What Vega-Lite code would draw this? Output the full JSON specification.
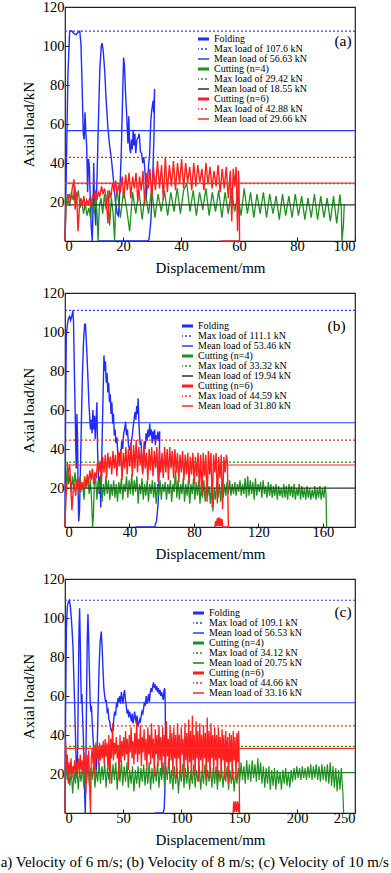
{
"$schema":"https://vega.github.io/schema/vega-lite/v6.json",
"padding":{"left":0,"top":-2,"right":0,"bottom":0},
"background":"white",
"config":{
"view":{"stroke":"#222","strokeWidth":1.2},
"font":"Liberation Serif",
"axis":{"labelFont":"Liberation Serif","titleFont":"Liberation Serif","labelFontSize":14.5,"titleFontSize":15,"titleFontWeight":"normal","labelColor":"#000","titleColor":"#000","domain":false,"grid":false,"tickSize":-4,"tickColor":"#222","tickWidth":1},
"axisX":{"labelPadding":2,"titlePadding":8},
"axisY":{"labelPadding":5,"titlePadding":6},
"legend":{"orient":"none","symbolType":"M-1.5,0H1.5","symbolSize":64,"labelFont":"Liberation Serif","labelFontSize":10,"labelColor":"#000","labelOffset":6,"rowPadding":0,"clipHeight":10,"padding":0,"symbolOpacity":1},
"title":{"font":"Liberation Serif","fontWeight":"normal","color":"#000"}
},
"title":{"text":"a) Velocity of 6 m/s; (b) Velocity of 8 m/s; (c) Velocity of 10 m/s","orient":"bottom","anchor":"start","fontSize":15,"offset":7,"dx":-20},
"spacing":52,
"bounds":"flush",
"resolve":{"scale":{"color":"independent","strokeDash":"independent","x":"independent","y":"independent"},"legend":{"color":"independent","strokeDash":"independent"}},
"datasets":{
"aF":[{"x":0,"y":0},{"x":0.5,"y":40},{"x":1,"y":85},{"x":1.6,"y":107.5},{"x":2.3,"y":107.8},{"x":3,"y":106.5},{"x":3.8,"y":105.8},{"x":4.5,"y":107},{"x":5.1,"y":107.6},{"x":5.5,"y":101},{"x":5.9,"y":80},{"x":6.3,"y":55},{"x":6.6,"y":52},{"x":6.9,"y":66},{"x":7.2,"y":55},{"x":7.5,"y":48},{"x":7.8,"y":25},{"x":8.1,"y":42},{"x":8.4,"y":38},{"x":8.7,"y":22},{"x":9,"y":8},{"x":9.4,"y":0},{"x":9.7,"y":20},{"x":9.9,"y":40},{"x":10.2,"y":18},{"x":10.6,"y":8},{"x":11,"y":30},{"x":11.5,"y":60},{"x":12,"y":88},{"x":12.5,"y":100},{"x":12.8,"y":101.5},{"x":13.2,"y":97},{"x":13.7,"y":87},{"x":14.2,"y":72},{"x":14.8,"y":58},{"x":15.3,"y":50},{"x":16,"y":42},{"x":16.8,"y":30},{"x":17.4,"y":20},{"x":18,"y":14},{"x":18.4,"y":13},{"x":18.9,"y":25},{"x":19.4,"y":45},{"x":19.8,"y":70},{"x":20.2,"y":94},{"x":20.5,"y":90},{"x":20.9,"y":75},{"x":21.3,"y":64},{"x":21.7,"y":50},{"x":22,"y":64},{"x":22.3,"y":48},{"x":22.6,"y":45},{"x":22.9,"y":52},{"x":23.2,"y":47},{"x":23.5,"y":57},{"x":23.8,"y":49},{"x":24.1,"y":55},{"x":24.4,"y":45},{"x":24.8,"y":52},{"x":25.2,"y":53},{"x":25.6,"y":55},{"x":26,"y":46},{"x":26.4,"y":45},{"x":26.8,"y":40},{"x":27.2,"y":43},{"x":27.6,"y":35},{"x":28,"y":22},{"x":28.4,"y":30},{"x":28.8,"y":38},{"x":29.2,"y":45},{"x":29.6,"y":62},{"x":30,"y":68},{"x":30.4,"y":72},{"x":30.6,"y":66},{"x":30.9,"y":78},{"x":30.7,"y":55},{"x":30.2,"y":30},{"x":29.6,"y":10},{"x":29,"y":1},{"x":28.6,"y":0},{"x":11.4,"y":0}],
"aFr":[{"k":"FM","y":107.6},{"k":"Fm","y":56.63}],
"aC4":[{"x":0,"y":0},{"x":0.4,"y":20},{"x":1,"y":24},{"x":1.6,"y":18},{"x":2.2,"y":25},{"x":2.8,"y":21},{"x":3.4,"y":28},{"x":4,"y":21},{"x":4.6,"y":26},{"x":5.2,"y":17},{"x":5.8,"y":21},{"x":6.4,"y":14},{"x":7,"y":19},{"x":7.6,"y":13},{"x":8.2,"y":17},{"x":8.8,"y":12},{"x":9.4,"y":22},{"x":10,"y":14},{"x":10.6,"y":25},{"x":11.1,"y":12},{"x":11.4,"y":0},{"x":11.8,"y":17},{"x":12.4,"y":22},{"x":13,"y":14},{"x":13.6,"y":24},{"x":14.2,"y":16},{"x":14.8,"y":26},{"x":15.4,"y":8},{"x":16,"y":22},{"x":16.6,"y":14},{"x":17.1,"y":0},{"x":17.5,"y":20},{"x":18,"y":26},{"x":19.1,"y":12},{"x":20.2,"y":26},{"x":21.3,"y":16},{"x":22.3,"y":5},{"x":23.3,"y":25},{"x":24.4,"y":14},{"x":25.5,"y":26},{"x":26.6,"y":11},{"x":27.7,"y":25},{"x":28.8,"y":14},{"x":29.9,"y":27},{"x":31,"y":12},{"x":32.1,"y":24},{"x":33.2,"y":15},{"x":34.3,"y":26},{"x":35.4,"y":13},{"x":36.5,"y":25},{"x":37.6,"y":15},{"x":38.7,"y":27},{"x":39.8,"y":14},{"x":40.9,"y":26},{"x":42,"y":29.4},{"x":43.1,"y":15},{"x":44.2,"y":26},{"x":45.3,"y":13},{"x":46.4,"y":25},{"x":47.5,"y":16},{"x":48.6,"y":27},{"x":49.7,"y":13},{"x":50.8,"y":25},{"x":51.9,"y":15},{"x":53,"y":26},{"x":54.1,"y":12},{"x":55.2,"y":25},{"x":56.3,"y":14},{"x":57.4,"y":27},{"x":58.5,"y":15},{"x":59.6,"y":24},{"x":60.7,"y":13},{"x":61.8,"y":27},{"x":62.9,"y":14},{"x":64,"y":25},{"x":65.1,"y":12},{"x":66.2,"y":24},{"x":67.3,"y":14},{"x":68.4,"y":25},{"x":69.5,"y":12},{"x":70.6,"y":24},{"x":71.7,"y":14},{"x":72.8,"y":23},{"x":73.9,"y":11},{"x":75,"y":24},{"x":76.1,"y":13},{"x":77.2,"y":23},{"x":78.3,"y":12},{"x":79.4,"y":24},{"x":80.5,"y":13},{"x":81.6,"y":23},{"x":82.7,"y":11},{"x":83.8,"y":22},{"x":84.9,"y":12},{"x":86,"y":24},{"x":87.1,"y":11},{"x":88.2,"y":23},{"x":89.3,"y":12},{"x":90.4,"y":22},{"x":91.5,"y":10},{"x":92.6,"y":23},{"x":93.7,"y":9},{"x":94.8,"y":24},{"x":95.3,"y":16},{"x":95.5,"y":0},{"x":96,"y":8},{"x":96.3,"y":19}],
"aC4r":[{"k":"C4M","y":29.42},{"k":"C4m","y":18.55}],
"aC6":[{"x":0,"y":0},{"x":0.3,"y":18},{"x":0.8,"y":19},{"x":1.4,"y":24},{"x":2,"y":21},{"x":2.5,"y":27},{"x":3.1,"y":31.6},{"x":3.5,"y":16},{"x":4,"y":25},{"x":4.5,"y":5},{"x":5,"y":18},{"x":5.5,"y":22},{"x":6,"y":18},{"x":6.5,"y":23},{"x":7,"y":17},{"x":7.5,"y":21},{"x":8,"y":19},{"x":8.5,"y":22},{"x":9,"y":17},{"x":9.5,"y":23},{"x":10,"y":22},{"x":10.5,"y":26},{"x":11,"y":21},{"x":11.5,"y":25},{"x":12,"y":23},{"x":12.6,"y":28},{"x":13.1,"y":24},{"x":13.6,"y":27},{"x":14.2,"y":22},{"x":14.8,"y":9},{"x":15.3,"y":26},{"x":15.8,"y":22},{"x":16.4,"y":30},{"x":17,"y":25},{"x":17.5,"y":31},{"x":18,"y":24},{"x":18.6,"y":29},{"x":19.1,"y":25},{"x":19.7,"y":33},{"x":20.3,"y":22},{"x":20.9,"y":34},{"x":21.5,"y":26},{"x":22.1,"y":35},{"x":22.7,"y":22},{"x":23.3,"y":33},{"x":23.9,"y":27},{"x":24.5,"y":35},{"x":25.1,"y":20},{"x":25.7,"y":33},{"x":26.3,"y":26},{"x":26.9,"y":36},{"x":27.5,"y":19},{"x":28.1,"y":35},{"x":28.7,"y":27},{"x":29.3,"y":37},{"x":29.9,"y":22},{"x":30.5,"y":38},{"x":31.2,"y":26},{"x":31.9,"y":41},{"x":32.6,"y":27},{"x":33.3,"y":39},{"x":33.9,"y":21},{"x":34.6,"y":42.9},{"x":35.3,"y":25},{"x":36,"y":39},{"x":36.7,"y":28},{"x":37.4,"y":41},{"x":38.1,"y":26},{"x":38.8,"y":40},{"x":39.5,"y":29},{"x":40.2,"y":42},{"x":40.9,"y":27},{"x":41.6,"y":40},{"x":42.3,"y":30},{"x":43,"y":38},{"x":43.7,"y":26},{"x":44.4,"y":40},{"x":45.1,"y":28},{"x":45.8,"y":39},{"x":46.5,"y":30},{"x":47.2,"y":37},{"x":47.9,"y":26},{"x":48.6,"y":40},{"x":49.3,"y":29},{"x":50,"y":38},{"x":50.7,"y":27},{"x":51.4,"y":36},{"x":52.1,"y":28},{"x":52.8,"y":39},{"x":53.5,"y":25},{"x":54.2,"y":37},{"x":54.9,"y":27},{"x":55.6,"y":38},{"x":56.3,"y":22},{"x":57,"y":36},{"x":57.5,"y":10},{"x":58,"y":37},{"x":58.5,"y":28},{"x":59,"y":38},{"x":59.5,"y":5},{"x":59.8,"y":36},{"x":60,"y":30},{"x":60.2,"y":0},{"x":53.7,"y":0}],
"aC6r":[{"k":"C6M","y":42.88},{"k":"C6m","y":29.66}],
"bF":[{"x":0,"y":0},{"x":0.4,"y":60},{"x":0.8,"y":98},{"x":1.5,"y":104},{"x":2.2,"y":107},{"x":2.9,"y":108},{"x":3.5,"y":106},{"x":4.2,"y":108},{"x":4.9,"y":111},{"x":5.3,"y":105},{"x":5.8,"y":80},{"x":6.3,"y":60},{"x":6.7,"y":40},{"x":7,"y":30},{"x":7.4,"y":58},{"x":7.8,"y":45},{"x":8.1,"y":20},{"x":8.5,"y":3},{"x":9,"y":8},{"x":9.6,"y":30},{"x":10.2,"y":55},{"x":10.8,"y":78},{"x":11.5,"y":95},{"x":12.2,"y":104},{"x":12.7,"y":104},{"x":13.2,"y":96},{"x":13.8,"y":85},{"x":14.3,"y":75},{"x":14.8,"y":64},{"x":15.3,"y":57},{"x":15.8,"y":50},{"x":16.3,"y":55},{"x":16.8,"y":48},{"x":17.3,"y":60},{"x":17.8,"y":50},{"x":18.3,"y":57},{"x":18.8,"y":45},{"x":19.3,"y":55},{"x":19.8,"y":64},{"x":20.2,"y":40},{"x":20.7,"y":27},{"x":21.2,"y":17},{"x":21.7,"y":26},{"x":22.2,"y":10},{"x":22.7,"y":30},{"x":23.2,"y":51},{"x":23.7,"y":70},{"x":24.2,"y":88},{"x":24.7,"y":80},{"x":25.1,"y":85},{"x":25.6,"y":74},{"x":26.1,"y":79},{"x":26.6,"y":69},{"x":27.1,"y":74},{"x":27.6,"y":64},{"x":28.1,"y":68},{"x":28.6,"y":58},{"x":29.1,"y":64},{"x":29.6,"y":53},{"x":30.1,"y":58},{"x":30.6,"y":47},{"x":31.1,"y":50},{"x":31.6,"y":43},{"x":32.2,"y":46},{"x":32.8,"y":37},{"x":33.4,"y":33},{"x":34,"y":38},{"x":34.6,"y":36},{"x":35.2,"y":44},{"x":35.8,"y":40},{"x":36.4,"y":48},{"x":37,"y":50},{"x":37.6,"y":54},{"x":38.2,"y":47},{"x":38.8,"y":50},{"x":39.4,"y":42},{"x":40,"y":40},{"x":40.6,"y":41},{"x":41.2,"y":44},{"x":41.8,"y":47},{"x":42.4,"y":52},{"x":43,"y":56},{"x":43.5,"y":59},{"x":44,"y":55},{"x":44.5,"y":62},{"x":45,"y":58},{"x":45.4,"y":66},{"x":45.8,"y":55},{"x":46.2,"y":48},{"x":46.7,"y":42},{"x":47.2,"y":44},{"x":47.7,"y":35},{"x":48.2,"y":28},{"x":48.7,"y":36},{"x":49.2,"y":44},{"x":49.7,"y":40},{"x":50.3,"y":48},{"x":50.9,"y":44},{"x":51.5,"y":50},{"x":52.1,"y":46},{"x":52.6,"y":53},{"x":53.1,"y":47},{"x":53.6,"y":50},{"x":54.1,"y":43},{"x":54.6,"y":49},{"x":55.1,"y":45},{"x":55.6,"y":50},{"x":56.1,"y":42},{"x":56.6,"y":47},{"x":57.1,"y":45},{"x":57.6,"y":49},{"x":58.1,"y":44},{"x":58.8,"y":49},{"x":58.5,"y":30},{"x":57.8,"y":12},{"x":56.8,"y":3},{"x":55.6,"y":0},{"x":43.7,"y":0}],
"bFr":[{"k":"FM","y":111.1},{"k":"Fm","y":53.46}],
"bC4":[{"x":0,"y":0},{"x":0.7,"y":22},{"x":1.5,"y":33.3},{"x":2.2,"y":22},{"x":3,"y":27},{"x":3.8,"y":18},{"x":4.6,"y":26},{"x":5.4,"y":20},{"x":6.2,"y":28},{"x":7,"y":21},{"x":7.8,"y":25},{"x":8.6,"y":18},{"x":9.4,"y":26},{"x":10.2,"y":19},{"x":11,"y":22},{"x":11.8,"y":14},{"x":12.6,"y":24},{"x":13.4,"y":20},{"x":14.2,"y":26},{"x":15,"y":17},{"x":15.8,"y":24},{"x":16.6,"y":12},{"x":17.1,"y":0},{"x":17.6,"y":5},{"x":18.2,"y":22},{"x":19,"y":25},{"x":19.8,"y":14},{"x":20.6,"y":24},{"x":21.4,"y":18},{"x":22.2,"y":27},{"x":23,"y":13},{"x":23.8,"y":22},{"x":24.6,"y":16},{"x":25.4,"y":26},{"x":26.2,"y":17},{"x":27,"y":24},{"x":27.8,"y":14},{"x":28.6,"y":22},{"x":29.4,"y":16},{"x":30.2,"y":24},{"x":31,"y":15},{"x":31.8,"y":22},{"x":32.6,"y":13},{"x":33.4,"y":23},{"x":34.2,"y":17},{"x":35,"y":25},{"x":35.8,"y":14},{"x":36.6,"y":22},{"x":37.4,"y":18},{"x":38.2,"y":26},{"x":39,"y":15},{"x":39.8,"y":24},{"x":40.6,"y":17},{"x":41.4,"y":27},{"x":42.2,"y":16},{"x":43,"y":24},{"x":43.8,"y":18},{"x":44.6,"y":26},{"x":45.4,"y":12},{"x":46.2,"y":22},{"x":47,"y":17},{"x":47.8,"y":25},{"x":48.6,"y":14},{"x":49.4,"y":22},{"x":50.2,"y":16},{"x":51,"y":24},{"x":51.8,"y":13},{"x":52.6,"y":22},{"x":53.4,"y":17},{"x":54.2,"y":24},{"x":55,"y":15},{"x":55.8,"y":23},{"x":56.6,"y":12},{"x":57.4,"y":22},{"x":58.2,"y":16},{"x":59,"y":24},{"x":59.8,"y":14},{"x":60.6,"y":22},{"x":61.4,"y":18},{"x":62.2,"y":23},{"x":63,"y":14},{"x":63.8,"y":22},{"x":64.6,"y":17},{"x":65.4,"y":24},{"x":66.2,"y":13},{"x":67,"y":22},{"x":67.8,"y":18},{"x":68.6,"y":29},{"x":69.4,"y":15},{"x":70.2,"y":24},{"x":71,"y":14},{"x":71.8,"y":22},{"x":72.6,"y":17},{"x":73.4,"y":25},{"x":74.2,"y":13},{"x":75,"y":22},{"x":75.8,"y":16},{"x":76.6,"y":24},{"x":77.4,"y":12},{"x":78.2,"y":22},{"x":79,"y":17},{"x":79.8,"y":25},{"x":80.6,"y":14},{"x":81.4,"y":23},{"x":82.2,"y":16},{"x":83,"y":24},{"x":83.8,"y":12},{"x":84.6,"y":22},{"x":85.4,"y":15},{"x":86.2,"y":24},{"x":87,"y":13},{"x":87.8,"y":22},{"x":88.6,"y":16},{"x":89.4,"y":21},{"x":90.2,"y":12},{"x":91,"y":22},{"x":91.8,"y":8},{"x":92.6,"y":20},{"x":93.4,"y":14},{"x":94.2,"y":23},{"x":95,"y":15},{"x":95.8,"y":22},{"x":96.6,"y":13},{"x":97.4,"y":23},{"x":98.2,"y":15},{"x":99,"y":22},{"x":99.8,"y":16},{"x":100.6,"y":23},{"x":101.4,"y":17},{"x":102.2,"y":24},{"x":103,"y":16},{"x":103.8,"y":22},{"x":104.6,"y":17},{"x":105.4,"y":23},{"x":106.2,"y":16},{"x":107,"y":22},{"x":107.8,"y":18},{"x":108.6,"y":24},{"x":109.4,"y":16},{"x":110.2,"y":22},{"x":111,"y":17},{"x":111.8,"y":25},{"x":112.6,"y":15},{"x":113.4,"y":26},{"x":114.2,"y":16},{"x":115,"y":24},{"x":115.8,"y":17},{"x":116.6,"y":23},{"x":117.4,"y":14},{"x":118.2,"y":25},{"x":119,"y":16},{"x":119.8,"y":22},{"x":120.6,"y":18},{"x":121.4,"y":23},{"x":122.2,"y":15},{"x":123,"y":24},{"x":123.8,"y":17},{"x":124.6,"y":21},{"x":125.4,"y":15},{"x":126.2,"y":23},{"x":127,"y":16},{"x":127.8,"y":22},{"x":128.6,"y":15},{"x":129.4,"y":21},{"x":130.2,"y":16},{"x":131,"y":22},{"x":131.8,"y":14},{"x":132.6,"y":21},{"x":133.4,"y":16},{"x":134.2,"y":20},{"x":135,"y":15},{"x":135.8,"y":22},{"x":136.6,"y":15},{"x":137.4,"y":21},{"x":138.2,"y":14},{"x":139,"y":22},{"x":139.8,"y":16},{"x":140.6,"y":21},{"x":141.4,"y":15},{"x":142.2,"y":22},{"x":143,"y":14},{"x":143.8,"y":20},{"x":144.6,"y":16},{"x":145.4,"y":22},{"x":146.2,"y":14},{"x":147,"y":21},{"x":147.8,"y":15},{"x":148.6,"y":20},{"x":149.4,"y":14},{"x":150.2,"y":21},{"x":151,"y":15},{"x":151.8,"y":20},{"x":152.6,"y":14},{"x":153.4,"y":19},{"x":154.2,"y":15},{"x":155,"y":21},{"x":155.8,"y":14},{"x":156.6,"y":20},{"x":157.4,"y":15},{"x":158.2,"y":21},{"x":159,"y":14},{"x":159.8,"y":20},{"x":160.6,"y":15},{"x":161.4,"y":21},{"x":162,"y":17},{"x":162.4,"y":0}],
"bC4r":[{"k":"C4M","y":33.32},{"k":"C4m","y":19.94}],
"bC6":[{"x":0,"y":0},{"x":0.5,"y":15},{"x":1.2,"y":22},{"x":2,"y":28},{"x":2.9,"y":32},{"x":3.5,"y":22},{"x":4.3,"y":8.6},{"x":5,"y":18},{"x":5.8,"y":22},{"x":6.6,"y":16},{"x":7.4,"y":24},{"x":8.2,"y":19},{"x":9,"y":25},{"x":9.8,"y":18},{"x":10.6,"y":23},{"x":11.4,"y":19},{"x":12.2,"y":26},{"x":13,"y":20},{"x":13.8,"y":27},{"x":14.6,"y":22},{"x":15.4,"y":29},{"x":16.2,"y":24},{"x":17,"y":30},{"x":17.8,"y":22},{"x":18.6,"y":28},{"x":19.4,"y":25},{"x":20.2,"y":33},{"x":21,"y":28},{"x":21.8,"y":34},{"x":22.6,"y":23},{"x":23.4,"y":36},{"x":24.2,"y":28},{"x":25,"y":37},{"x":25.8,"y":25},{"x":26.6,"y":38},{"x":27.4,"y":30},{"x":28.2,"y":36},{"x":29,"y":27},{"x":29.8,"y":39},{"x":30.6,"y":30},{"x":31.4,"y":37},{"x":32.2,"y":26},{"x":33,"y":39},{"x":33.8,"y":31},{"x":34.6,"y":40},{"x":35.4,"y":24},{"x":36.2,"y":38},{"x":37,"y":30},{"x":37.8,"y":41},{"x":38.6,"y":27},{"x":39.4,"y":40},{"x":40.2,"y":31},{"x":41,"y":43},{"x":41.8,"y":26},{"x":42.6,"y":42},{"x":43.4,"y":30},{"x":44.2,"y":44.6},{"x":45,"y":28},{"x":45.8,"y":41},{"x":46.6,"y":32},{"x":47.4,"y":40},{"x":48.2,"y":27},{"x":49,"y":42},{"x":49.8,"y":30},{"x":50.6,"y":38},{"x":51.4,"y":24},{"x":52.2,"y":40},{"x":53,"y":29},{"x":53.8,"y":41},{"x":54.6,"y":26},{"x":55.4,"y":39},{"x":56.2,"y":30},{"x":57,"y":41},{"x":57.8,"y":23},{"x":58.6,"y":40},{"x":59.4,"y":28},{"x":60.2,"y":38},{"x":61,"y":25},{"x":61.8,"y":41},{"x":62.6,"y":28},{"x":63.4,"y":40},{"x":64.2,"y":24},{"x":65,"y":41},{"x":65.8,"y":30},{"x":66.6,"y":39},{"x":67.4,"y":25},{"x":68.2,"y":40},{"x":69,"y":28},{"x":69.8,"y":38},{"x":70.6,"y":23},{"x":71.4,"y":37},{"x":72.2,"y":28},{"x":73,"y":39},{"x":73.8,"y":24},{"x":74.6,"y":37},{"x":75.4,"y":27},{"x":76.2,"y":38},{"x":77,"y":22},{"x":77.8,"y":36},{"x":78.6,"y":27},{"x":79.4,"y":38},{"x":80.2,"y":22},{"x":81,"y":36},{"x":81.8,"y":26},{"x":82.6,"y":38},{"x":83.4,"y":20},{"x":84.2,"y":37},{"x":85,"y":16},{"x":85.8,"y":38},{"x":86.6,"y":26},{"x":87.4,"y":37},{"x":88.2,"y":13},{"x":89,"y":39},{"x":89.8,"y":27},{"x":90.6,"y":38},{"x":91.4,"y":10},{"x":92.2,"y":37},{"x":93,"y":28},{"x":93.8,"y":38},{"x":94.6,"y":12},{"x":95.4,"y":36},{"x":96.2,"y":25},{"x":97,"y":37},{"x":97.8,"y":9},{"x":98.6,"y":36},{"x":99.4,"y":28},{"x":100.2,"y":37},{"x":100.8,"y":33},{"x":101.4,"y":0},{"x":98,"y":0},{"x":97.5,"y":4},{"x":97,"y":0.5},{"x":96.5,"y":4.5},{"x":96,"y":0.5},{"x":95.5,"y":5},{"x":95,"y":0.5},{"x":94.5,"y":4.5},{"x":94,"y":0.5},{"x":93.5,"y":3},{"x":93,"y":0}],
"bC6r":[{"k":"C6M","y":44.59},{"k":"C6m","y":31.8}],
"cF":[{"x":0,"y":0},{"x":0.5,"y":50},{"x":1.2,"y":95},{"x":2,"y":106},{"x":2.8,"y":108},{"x":3.6,"y":109},{"x":4.4,"y":107},{"x":5.2,"y":102},{"x":6,"y":95},{"x":6.9,"y":85},{"x":7.6,"y":70},{"x":8.3,"y":56},{"x":9,"y":40},{"x":9.8,"y":22},{"x":10.4,"y":18},{"x":11,"y":35},{"x":11.6,"y":70},{"x":12.1,"y":95},{"x":12.6,"y":105},{"x":13.1,"y":90},{"x":13.6,"y":70},{"x":14.1,"y":56},{"x":14.6,"y":61},{"x":15.1,"y":50},{"x":15.8,"y":40},{"x":16.5,"y":20},{"x":17.2,"y":5},{"x":17.5,"y":0},{"x":18,"y":25},{"x":18.6,"y":60},{"x":19.2,"y":90},{"x":19.8,"y":102},{"x":20.3,"y":92},{"x":20.8,"y":78},{"x":21.3,"y":66},{"x":21.8,"y":56},{"x":22.3,"y":52},{"x":22.8,"y":55},{"x":23.3,"y":48},{"x":24,"y":40},{"x":24.8,"y":32},{"x":25.6,"y":28},{"x":26.4,"y":24},{"x":27,"y":22},{"x":27.8,"y":35},{"x":28.6,"y":55},{"x":29.4,"y":75},{"x":30.3,"y":88},{"x":31.3,"y":93},{"x":32,"y":85},{"x":32.8,"y":73},{"x":33.5,"y":64},{"x":34.2,"y":60},{"x":35,"y":57},{"x":35.6,"y":58},{"x":36.3,"y":52},{"x":37.1,"y":53},{"x":37.8,"y":48},{"x":38.5,"y":47},{"x":39.2,"y":44},{"x":40,"y":42},{"x":40.8,"y":43},{"x":41.4,"y":42},{"x":42,"y":48},{"x":42.8,"y":52},{"x":43.6,"y":50},{"x":44.4,"y":56},{"x":45.2,"y":55},{"x":45.7,"y":59},{"x":46.5,"y":57},{"x":47.2,"y":60},{"x":47.9,"y":56},{"x":48.6,"y":62},{"x":49.3,"y":59},{"x":50,"y":56},{"x":50.7,"y":61},{"x":51.4,"y":63},{"x":52.1,"y":58},{"x":52.8,"y":55},{"x":53.5,"y":51},{"x":54.3,"y":53},{"x":55,"y":49},{"x":55.7,"y":52},{"x":56.4,"y":50},{"x":57.2,"y":47},{"x":57.9,"y":51},{"x":58.6,"y":46},{"x":59.3,"y":48},{"x":60,"y":52},{"x":60.7,"y":49},{"x":61.4,"y":46},{"x":62.1,"y":50},{"x":62.9,"y":44},{"x":63.6,"y":46},{"x":64.3,"y":48},{"x":65,"y":47},{"x":65.7,"y":50},{"x":66.4,"y":52},{"x":67.1,"y":51},{"x":67.8,"y":54},{"x":68.5,"y":57},{"x":69.2,"y":55},{"x":70,"y":60},{"x":70.7,"y":56},{"x":71.4,"y":58},{"x":72.1,"y":61},{"x":72.8,"y":57},{"x":73.5,"y":62},{"x":74.2,"y":64},{"x":74.9,"y":62},{"x":75.6,"y":65},{"x":76.3,"y":67},{"x":77,"y":64},{"x":77.7,"y":66},{"x":78.4,"y":63},{"x":79.1,"y":65},{"x":79.8,"y":62},{"x":80.5,"y":64},{"x":81.2,"y":61},{"x":81.9,"y":63},{"x":82.6,"y":60},{"x":83.3,"y":62},{"x":84,"y":60},{"x":84.7,"y":58},{"x":85.4,"y":63},{"x":86,"y":64},{"x":86.4,"y":56},{"x":86.6,"y":40},{"x":86.4,"y":25},{"x":86,"y":10},{"x":85.5,"y":2},{"x":84.5,"y":0},{"x":77.3,"y":0}],
"cFr":[{"k":"FM","y":109.1},{"k":"Fm","y":56.53}],
"cC4":[{"x":0,"y":0},{"x":0.6,"y":34},{"x":1.8,"y":17},{"x":3,"y":24},{"x":4.2,"y":14},{"x":5.4,"y":22},{"x":6.6,"y":10},{"x":7.8,"y":21},{"x":9,"y":15},{"x":10.2,"y":25},{"x":11.4,"y":12},{"x":12.6,"y":22},{"x":13.8,"y":16},{"x":15,"y":24},{"x":16.2,"y":13},{"x":17.4,"y":21},{"x":18.6,"y":15},{"x":19.8,"y":25},{"x":21,"y":14},{"x":22.2,"y":23},{"x":23.4,"y":17},{"x":24.6,"y":25},{"x":25.8,"y":13},{"x":27,"y":22},{"x":28.2,"y":16},{"x":29.4,"y":26},{"x":30.6,"y":15},{"x":31.8,"y":24},{"x":33,"y":17},{"x":34.2,"y":26},{"x":35.4,"y":13},{"x":36.6,"y":23},{"x":37.8,"y":17},{"x":39,"y":26},{"x":40.2,"y":15},{"x":41.4,"y":25},{"x":42.6,"y":17},{"x":43.8,"y":26},{"x":45,"y":12},{"x":46.2,"y":24},{"x":47.4,"y":16},{"x":48.6,"y":27},{"x":49.8,"y":14},{"x":51,"y":24},{"x":52.2,"y":16},{"x":53.4,"y":26},{"x":54.6,"y":13},{"x":55.8,"y":22},{"x":57,"y":15},{"x":58.2,"y":24},{"x":59.4,"y":11},{"x":60.6,"y":22},{"x":61.8,"y":15},{"x":63,"y":24},{"x":64.2,"y":13},{"x":65.4,"y":23},{"x":66.6,"y":16},{"x":67.8,"y":25},{"x":69,"y":14},{"x":70.2,"y":23},{"x":71.4,"y":15},{"x":72.6,"y":26},{"x":73.8,"y":12},{"x":75,"y":23},{"x":76.2,"y":15},{"x":77.4,"y":24},{"x":78.6,"y":16},{"x":79.8,"y":26},{"x":81,"y":13},{"x":82.2,"y":23},{"x":83.4,"y":17},{"x":84.6,"y":26},{"x":85.8,"y":14},{"x":87,"y":24},{"x":88.2,"y":17},{"x":89.4,"y":28},{"x":90.6,"y":15},{"x":91.8,"y":22},{"x":93,"y":12},{"x":94.2,"y":24},{"x":95.4,"y":15},{"x":96.6,"y":23},{"x":97.8,"y":10},{"x":99,"y":22},{"x":100.2,"y":16},{"x":101.4,"y":25},{"x":102.6,"y":13},{"x":103.8,"y":23},{"x":105,"y":15},{"x":106.2,"y":24},{"x":107.4,"y":12},{"x":108.6,"y":22},{"x":109.8,"y":15},{"x":111,"y":25},{"x":112.2,"y":13},{"x":113.4,"y":22},{"x":114.6,"y":16},{"x":115.8,"y":24},{"x":117,"y":12},{"x":118.2,"y":22},{"x":119.4,"y":15},{"x":120.6,"y":25},{"x":121.8,"y":14},{"x":123,"y":22},{"x":124.2,"y":16},{"x":125.4,"y":24},{"x":126.6,"y":13},{"x":127.8,"y":23},{"x":129,"y":15},{"x":130.2,"y":24},{"x":131.4,"y":12},{"x":132.6,"y":22},{"x":133.8,"y":16},{"x":135,"y":23},{"x":136.2,"y":13},{"x":137.4,"y":22},{"x":138.6,"y":16},{"x":139.8,"y":24},{"x":141,"y":12},{"x":142.2,"y":22},{"x":143.4,"y":15},{"x":144.6,"y":23},{"x":145.8,"y":11},{"x":147,"y":21},{"x":148.2,"y":15},{"x":149.4,"y":23},{"x":150.6,"y":16},{"x":151.8,"y":26},{"x":153,"y":17},{"x":154.2,"y":24},{"x":155.4,"y":15},{"x":156.6,"y":27},{"x":157.8,"y":17},{"x":159,"y":25},{"x":160.2,"y":16},{"x":161.4,"y":27},{"x":162.6,"y":18},{"x":163.8,"y":25},{"x":165,"y":16},{"x":166.2,"y":28},{"x":167.4,"y":17},{"x":168.6,"y":26},{"x":169.8,"y":15},{"x":171,"y":24},{"x":172.2,"y":13},{"x":173.4,"y":23},{"x":174.6,"y":15},{"x":175.8,"y":24},{"x":177,"y":12},{"x":178.2,"y":22},{"x":179.4,"y":14},{"x":180.6,"y":23},{"x":181.8,"y":12},{"x":183,"y":22},{"x":184.2,"y":15},{"x":185.4,"y":21},{"x":186.6,"y":12},{"x":187.8,"y":22},{"x":189,"y":15},{"x":190.2,"y":23},{"x":191.4,"y":14},{"x":192.6,"y":21},{"x":193.8,"y":13},{"x":195,"y":22},{"x":196.2,"y":16},{"x":197.4,"y":23},{"x":198.6,"y":17},{"x":199.8,"y":24},{"x":201,"y":18},{"x":202.2,"y":23},{"x":203.4,"y":17},{"x":204.6,"y":24},{"x":205.8,"y":18},{"x":207,"y":23},{"x":208.2,"y":17},{"x":209.4,"y":24},{"x":210.6,"y":18},{"x":211.8,"y":25},{"x":213,"y":17},{"x":214.2,"y":24},{"x":215.4,"y":18},{"x":216.6,"y":25},{"x":217.8,"y":17},{"x":219,"y":24},{"x":220.2,"y":16},{"x":221.4,"y":25},{"x":222.6,"y":17},{"x":223.8,"y":24},{"x":225,"y":16},{"x":226.2,"y":25},{"x":227.4,"y":15},{"x":228.6,"y":26},{"x":229.8,"y":14},{"x":231,"y":24},{"x":232.2,"y":13},{"x":233.4,"y":23},{"x":234.6,"y":11},{"x":235.8,"y":22},{"x":237,"y":12},{"x":238.2,"y":23},{"x":239,"y":15},{"x":239.6,"y":10},{"x":240.2,"y":0}],
"cC4r":[{"k":"C4M","y":34.12},{"k":"C4m","y":20.75}],
"cC6":[{"x":0,"y":0},{"x":0.5,"y":37},{"x":1.2,"y":22},{"x":2,"y":30},{"x":2.8,"y":15},{"x":3.6,"y":26},{"x":4.4,"y":20},{"x":5.2,"y":28},{"x":6,"y":18},{"x":6.8,"y":24},{"x":7.6,"y":21},{"x":8.4,"y":27},{"x":9.2,"y":19},{"x":10,"y":26},{"x":10.8,"y":22},{"x":11.6,"y":28},{"x":12.4,"y":20},{"x":13.2,"y":30},{"x":14,"y":22},{"x":14.8,"y":27},{"x":15.6,"y":20},{"x":16.4,"y":31},{"x":17.2,"y":24},{"x":18,"y":10},{"x":18.8,"y":30},{"x":19.6,"y":22},{"x":20.4,"y":32},{"x":21.2,"y":14},{"x":22,"y":0},{"x":22.6,"y":28},{"x":23.4,"y":33},{"x":24.2,"y":25},{"x":25,"y":35},{"x":25.8,"y":18},{"x":26.6,"y":36},{"x":27.4,"y":28},{"x":28.2,"y":34},{"x":29,"y":24},{"x":29.8,"y":36},{"x":30.6,"y":27},{"x":31.4,"y":35},{"x":32.2,"y":28},{"x":33,"y":37},{"x":33.8,"y":25},{"x":34.6,"y":38},{"x":35.4,"y":29},{"x":36.2,"y":36},{"x":37,"y":22},{"x":37.8,"y":40},{"x":38.6,"y":15},{"x":39.4,"y":38},{"x":40.2,"y":28},{"x":41,"y":46},{"x":41.8,"y":27},{"x":42.6,"y":36},{"x":43.4,"y":30},{"x":44.2,"y":39},{"x":45,"y":28},{"x":45.8,"y":35},{"x":46.6,"y":17},{"x":47.4,"y":40},{"x":48.2,"y":26},{"x":49,"y":37},{"x":49.8,"y":29},{"x":50.6,"y":39},{"x":51.4,"y":27},{"x":52.2,"y":42},{"x":53,"y":30},{"x":53.8,"y":38},{"x":54.6,"y":22},{"x":55.4,"y":40},{"x":56.2,"y":31},{"x":57,"y":44},{"x":57.8,"y":28},{"x":58.6,"y":37},{"x":59.4,"y":25},{"x":60.2,"y":41},{"x":61,"y":30},{"x":61.8,"y":47},{"x":62.6,"y":26},{"x":63.4,"y":38},{"x":64.2,"y":30},{"x":65,"y":45},{"x":65.8,"y":24},{"x":66.6,"y":39},{"x":67.4,"y":31},{"x":68.2,"y":43},{"x":69,"y":27},{"x":69.8,"y":38},{"x":70.6,"y":22},{"x":71.4,"y":44},{"x":72.2,"y":30},{"x":73,"y":40},{"x":73.8,"y":25},{"x":74.6,"y":46},{"x":75.4,"y":28},{"x":76.2,"y":38},{"x":77,"y":19},{"x":77.8,"y":43},{"x":78.6,"y":30},{"x":79.4,"y":40},{"x":80.2,"y":24},{"x":81,"y":45},{"x":81.8,"y":27},{"x":82.6,"y":39},{"x":83.4,"y":21},{"x":84.2,"y":44},{"x":85,"y":29},{"x":85.8,"y":40},{"x":86.6,"y":18},{"x":87.4,"y":47},{"x":88.2,"y":29},{"x":89,"y":38},{"x":89.8,"y":23},{"x":90.6,"y":45},{"x":91.4,"y":27},{"x":92.2,"y":41},{"x":93,"y":19},{"x":93.8,"y":44},{"x":94.6,"y":28},{"x":95.4,"y":40},{"x":96.2,"y":18},{"x":97,"y":46},{"x":97.8,"y":28},{"x":98.6,"y":40},{"x":99.4,"y":20},{"x":100.2,"y":44},{"x":101,"y":30},{"x":101.8,"y":38},{"x":102.6,"y":18},{"x":103.4,"y":46},{"x":104.2,"y":27},{"x":105,"y":41},{"x":105.8,"y":20},{"x":106.6,"y":48},{"x":107.4,"y":26},{"x":108.2,"y":42},{"x":109,"y":17},{"x":109.8,"y":50},{"x":110.6,"y":27},{"x":111.4,"y":40},{"x":112.2,"y":19},{"x":113,"y":47},{"x":113.8,"y":28},{"x":114.6,"y":42},{"x":115.4,"y":16},{"x":116.2,"y":46},{"x":117,"y":27},{"x":117.8,"y":40},{"x":118.6,"y":20},{"x":119.4,"y":45},{"x":120.2,"y":28},{"x":121,"y":41},{"x":121.8,"y":17},{"x":122.6,"y":49},{"x":123.4,"y":26},{"x":124.2,"y":42},{"x":125,"y":18},{"x":125.8,"y":46},{"x":126.6,"y":28},{"x":127.4,"y":40},{"x":128.2,"y":20},{"x":129,"y":44},{"x":129.8,"y":27},{"x":130.6,"y":40},{"x":131.4,"y":16},{"x":132.2,"y":44},{"x":133,"y":28},{"x":133.8,"y":39},{"x":134.6,"y":18},{"x":135.4,"y":43},{"x":136.2,"y":27},{"x":137,"y":40},{"x":137.8,"y":17},{"x":138.6,"y":42},{"x":139.4,"y":26},{"x":140.2,"y":39},{"x":141,"y":15},{"x":141.8,"y":41},{"x":142.6,"y":26},{"x":143.4,"y":40},{"x":144.2,"y":17},{"x":145,"y":42},{"x":145.8,"y":27},{"x":146.6,"y":39},{"x":147.4,"y":18},{"x":148.2,"y":41},{"x":149,"y":26},{"x":149.6,"y":42},{"x":150,"y":35},{"x":150.5,"y":0},{"x":150.2,"y":6},{"x":149.4,"y":0.5},{"x":148.6,"y":6},{"x":147.8,"y":0.5},{"x":147,"y":6},{"x":146.2,"y":0.5},{"x":145.4,"y":6},{"x":144.9,"y":0}],
"cC6r":[{"k":"C6M","y":44.66},{"k":"C6m","y":33.16}]
},
"vconcat":[
{"width":290,"height":234,
"title":{"text":"(a)","anchor":"end","offset":-62,"dx":-4,"fontSize":15.5,"baseline":"alphabetic"},
"encoding":{
"y":{"field":"y","type":"quantitative","scale":{"domain":[0,120],"nice":false},"axis":{"values":[20,40,60,80,100,120],"title":"Axial load/kN"}},
"color":{"field":"k","type":"nominal","title":null,"scale":{"domain":["F","FM","Fm","C4","C4M","C4m","C6","C6M","C6m"],"range":["#1f2bff","#2a3cff","#2a3cff","#1e921e","#1e921e","#233d23","#ff1f1f","#ff2a2a","#ff2a2a"]},"legend":{"legendX":133,"legendY":27,"labelExpr":"datum.label=='F'?'Folding':datum.label=='FM'?'Max load of 107.6 kN':datum.label=='Fm'?'Mean load of 56.63 kN':datum.label=='C4'?'Cutting (n=4)':datum.label=='C4M'?'Max load of 29.42 kN':datum.label=='C4m'?'Mean load of 18.55 kN':datum.label=='C6'?'Cutting (n=6)':datum.label=='C6M'?'Max load of 42.88 kN':'Mean load of 29.66 kN'","encode":{"symbols":{"update":{"strokeWidth":{"signal":"(datum.value=='F'||datum.value=='C4'||datum.value=='C6')?3:1.4"}}}}}},
"strokeDash":{"field":"k","type":"nominal","title":null,"scale":{"domain":["F","FM","Fm","C4","C4M","C4m","C6","C6M","C6m"],"range":[[1,0],[2,2],[1,0],[1,0],[2,2],[1,0],[1,0],[2,2],[1,0]]},"legend":{"legendX":133,"legendY":27,"labelExpr":"datum.label=='F'?'Folding':datum.label=='FM'?'Max load of 107.6 kN':datum.label=='Fm'?'Mean load of 56.63 kN':datum.label=='C4'?'Cutting (n=4)':datum.label=='C4M'?'Max load of 29.42 kN':datum.label=='C4m'?'Mean load of 18.55 kN':datum.label=='C6'?'Cutting (n=6)':datum.label=='C6M'?'Max load of 42.88 kN':'Mean load of 29.66 kN'"}}
},
"layer":[
{"data":{"name":"aF"},"mark":{"type":"line","strokeWidth":1.4},"encoding":{"x":{"field":"x","type":"quantitative","scale":{"domain":[0,100],"nice":false},"axis":{"values":[0,20,40,60,80,100],"title":"Displacement/mm"}},"color":{"datum":"F"},"strokeDash":{"datum":"F"},"order":{"value":null}}},
{"data":{"name":"aFr"},"mark":{"type":"rule","strokeWidth":1.2},"encoding":{}},
{"data":{"name":"aC4"},"mark":{"type":"line","strokeWidth":1.3},"encoding":{"x":{"field":"x","type":"quantitative"},"color":{"datum":"C4"},"strokeDash":{"datum":"C4"},"order":{"value":null}}},
{"data":{"name":"aC4r"},"mark":{"type":"rule","strokeWidth":1.2},"encoding":{}},
{"data":{"name":"aC6"},"mark":{"type":"line","strokeWidth":1.4},"encoding":{"x":{"field":"x","type":"quantitative"},"color":{"datum":"C6"},"strokeDash":{"datum":"C6"},"order":{"value":null}}},
{"data":{"name":"aC6r"},"mark":{"type":"rule","strokeWidth":1.2},"encoding":{}}
]},
{"width":290,"height":234,
"title":{"text":"(b)","anchor":"end","offset":-61,"dx":-10,"fontSize":15.5,"baseline":"alphabetic"},
"encoding":{
"y":{"field":"y","type":"quantitative","scale":{"domain":[0,120],"nice":false},"axis":{"values":[20,40,60,80,100,120],"title":"Axial load/kN"}},
"color":{"field":"k","type":"nominal","title":null,"scale":{"domain":["F","FM","Fm","C4","C4M","C4m","C6","C6M","C6m"],"range":["#1f2bff","#2a3cff","#2a3cff","#1e921e","#1e921e","#233d23","#ff1f1f","#ff2a2a","#ff2a2a"]},"legend":{"legendX":117,"legendY":28,"labelExpr":"datum.label=='F'?'Folding':datum.label=='FM'?'Max load of 111.1 kN':datum.label=='Fm'?'Mean load of 53.46 kN':datum.label=='C4'?'Cutting (n=4)':datum.label=='C4M'?'Max load of 33.32 kN':datum.label=='C4m'?'Mean load of 19.94 kN':datum.label=='C6'?'Cutting (n=6)':datum.label=='C6M'?'Max load of 44.59 kN':'Mean load of 31.80 kN'","encode":{"symbols":{"update":{"strokeWidth":{"signal":"(datum.value=='F'||datum.value=='C4'||datum.value=='C6')?3:1.4"}}}}}},
"strokeDash":{"field":"k","type":"nominal","title":null,"scale":{"domain":["F","FM","Fm","C4","C4M","C4m","C6","C6M","C6m"],"range":[[1,0],[2,2],[1,0],[1,0],[2,2],[1,0],[1,0],[2,2],[1,0]]},"legend":{"legendX":117,"legendY":28,"labelExpr":"datum.label=='F'?'Folding':datum.label=='FM'?'Max load of 111.1 kN':datum.label=='Fm'?'Mean load of 53.46 kN':datum.label=='C4'?'Cutting (n=4)':datum.label=='C4M'?'Max load of 33.32 kN':datum.label=='C4m'?'Mean load of 19.94 kN':datum.label=='C6'?'Cutting (n=6)':datum.label=='C6M'?'Max load of 44.59 kN':'Mean load of 31.80 kN'"}}
},
"layer":[
{"data":{"name":"bF"},"mark":{"type":"line","strokeWidth":1.4},"encoding":{"x":{"field":"x","type":"quantitative","scale":{"domain":[0,180],"nice":false},"axis":{"values":[0,40,80,120,160],"title":"Displacement/mm"}},"color":{"datum":"F"},"strokeDash":{"datum":"F"},"order":{"value":null}}},
{"data":{"name":"bFr"},"mark":{"type":"rule","strokeWidth":1.2},"encoding":{}},
{"data":{"name":"bC4"},"mark":{"type":"line","strokeWidth":1.3},"encoding":{"x":{"field":"x","type":"quantitative"},"color":{"datum":"C4"},"strokeDash":{"datum":"C4"},"order":{"value":null}}},
{"data":{"name":"bC4r"},"mark":{"type":"rule","strokeWidth":1.2},"encoding":{}},
{"data":{"name":"bC6"},"mark":{"type":"line","strokeWidth":1.4},"encoding":{"x":{"field":"x","type":"quantitative"},"color":{"datum":"C6"},"strokeDash":{"datum":"C6"},"order":{"value":null}}},
{"data":{"name":"bC6r"},"mark":{"type":"rule","strokeWidth":1.2},"encoding":{}}
]},
{"width":290,"height":234,
"title":{"text":"(c)","anchor":"end","offset":-61,"dx":-4,"fontSize":15.5,"baseline":"alphabetic"},
"encoding":{
"y":{"field":"y","type":"quantitative","scale":{"domain":[0,120],"nice":false},"axis":{"values":[20,40,60,80,100,120],"title":"Axial load/kN"}},
"color":{"field":"k","type":"nominal","title":null,"scale":{"domain":["F","FM","Fm","C4","C4M","C4m","C6","C6M","C6m"],"range":["#1f2bff","#2a3cff","#2a3cff","#1e921e","#1e921e","#1e801e","#ff1f1f","#ff2a2a","#ff2a2a"]},"legend":{"legendX":128,"legendY":29,"labelExpr":"datum.label=='F'?'Folding':datum.label=='FM'?'Max load of 109.1 kN':datum.label=='Fm'?'Mean load of 56.53 kN':datum.label=='C4'?'Cutting (n=4)':datum.label=='C4M'?'Max load of 34.12 kN':datum.label=='C4m'?'Mean load of 20.75 kN':datum.label=='C6'?'Cutting (n=6)':datum.label=='C6M'?'Max load of 44.66 kN':'Mean load of 33.16 kN'","encode":{"symbols":{"update":{"strokeWidth":{"signal":"(datum.value=='F'||datum.value=='C4'||datum.value=='C6')?3:1.4"}}}}}},
"strokeDash":{"field":"k","type":"nominal","title":null,"scale":{"domain":["F","FM","Fm","C4","C4M","C4m","C6","C6M","C6m"],"range":[[1,0],[2,2],[1,0],[1,0],[2,2],[1,0],[1,0],[2,2],[1,0]]},"legend":{"legendX":128,"legendY":29,"labelExpr":"datum.label=='F'?'Folding':datum.label=='FM'?'Max load of 109.1 kN':datum.label=='Fm'?'Mean load of 56.53 kN':datum.label=='C4'?'Cutting (n=4)':datum.label=='C4M'?'Max load of 34.12 kN':datum.label=='C4m'?'Mean load of 20.75 kN':datum.label=='C6'?'Cutting (n=6)':datum.label=='C6M'?'Max load of 44.66 kN':'Mean load of 33.16 kN'"}}
},
"layer":[
{"data":{"name":"cF"},"mark":{"type":"line","strokeWidth":1.4},"encoding":{"x":{"field":"x","type":"quantitative","scale":{"domain":[0,250],"nice":false},"axis":{"values":[0,50,100,150,200,250],"title":"Displacement/mm"}},"color":{"datum":"F"},"strokeDash":{"datum":"F"},"order":{"value":null}}},
{"data":{"name":"cFr"},"mark":{"type":"rule","strokeWidth":1.2},"encoding":{}},
{"data":{"name":"cC4"},"mark":{"type":"line","strokeWidth":1.2},"encoding":{"x":{"field":"x","type":"quantitative"},"color":{"datum":"C4"},"strokeDash":{"datum":"C4"},"order":{"value":null}}},
{"data":{"name":"cC4r"},"mark":{"type":"rule","strokeWidth":1.2},"encoding":{}},
{"data":{"name":"cC6"},"mark":{"type":"line","strokeWidth":1.3},"encoding":{"x":{"field":"x","type":"quantitative"},"color":{"datum":"C6"},"strokeDash":{"datum":"C6"},"order":{"value":null}}},
{"data":{"name":"cC6r"},"mark":{"type":"rule","strokeWidth":1.2},"encoding":{}}
]}
]
}
